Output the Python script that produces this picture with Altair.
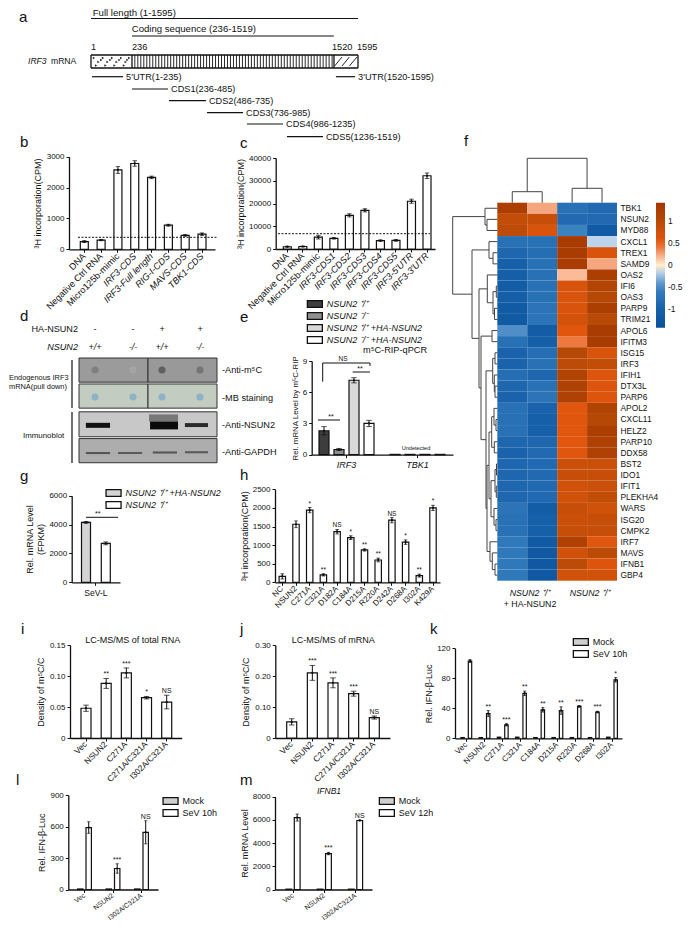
import altair as alt
import pandas as pd

W, H = 675, 914
FONT = "Liberation Sans"
def PX(p): return p - 8
def PY(p): return p - 8

# ---------- chart values ----------
b_cats = ["DNA", "Negative Ctrl RNA", "Micro125b-mimic", "IRF3-CDS", "IRF3-Full length", "RIG-I-CDS", "MAVS-CDS", "TBK1-CDS"]
b_vals = [250, 300, 2570, 2780, 2330, 780, 450, 490]
b_errs = [30, 20, 110, 90, 40, 30, 25, 40]
c_cats = ["DNA", "Negative Ctrl RNA", "Micro125b-mimic", "IRF3-CDS1", "IRF3-CDS2", "IRF3-CDS3", "IRF3-CDS4", "IRF3-CDS5", "IRF3-5'UTR", "IRF3-3'UTR"]
c_vals = [1000, 1100, 5200, 4700, 14800, 17000, 3700, 3800, 21000, 32200]
c_errs = [200, 200, 800, 300, 700, 700, 300, 400, 900, 1200]
e_cats = ["IRF3", "TBK1"]
e_names = ["NSUN2 ⁺/⁺", "NSUN2 ⁻/⁻", "NSUN2 ⁺/⁺ +HA-NSUN2", "NSUN2 ⁻/⁻ +HA-NSUN2"]
e_vals = [[2.3, 0.03], [0.5, 0.03], [7.15, 0.03], [3.0, 0.03]]
e_errs = [[0.4, 0.0], [0.1, 0.0], [0.25, 0.0], [0.3, 0.0]]
g_names = ["NSUN2 ⁺/⁺ +HA-NSUN2", "NSUN2 ⁺/⁺"]
g_vals = [[4150], [2700]]
g_errs = [[60], [100]]
h_cats = ["NC", "NSUN2", "C271A", "C321A", "D182A", "C184A", "D215A", "R220A", "D242A", "D268A", "I302A", "K429A"]
h_vals = [160, 1560, 1940, 200, 1360, 1200, 870, 600, 1670, 1080, 180, 2000]
h_errs = [70, 90, 70, 30, 60, 50, 30, 50, 70, 60, 40, 70]
h_sig = ["", "", "*", "**", "NS", "*", "**", "**", "NS", "*", "**", "*"]
i_cats = ["Vec", "NSUN2", "C271A", "C271A/C321A", "I302A/C321A"]
i_vals = [0.048, 0.088, 0.105, 0.065, 0.058]
i_errs = [0.005, 0.008, 0.008, 0.002, 0.011]
i_sig = ["", "**", "***", "*", "NS"]
j_vals = [0.052, 0.21, 0.178, 0.143, 0.066]
j_errs = [0.01, 0.024, 0.016, 0.008, 0.005]
j_sig = ["", "***", "***", "***", "NS"]
k_cats = ["Vec", "NSUN2", "C271A", "C321A", "C184A", "D215A", "R220A", "D268A", "I302A"]
k_mock = [1, 1, 1.5, 1.5, 1, 1, 1, 1, 1.5]
k_sev = [103, 33, 18, 60, 38, 37, 42.5, 35, 78]
k_err = [2, 4, 1.5, 3, 3, 5, 1, 1, 3]
k_sig = ["", "**", "***", "**", "**", "**", "***", "***", "*"]
lm_cats = ["Vec", "NSUN2", "I302A/C321A"]
l_mock = [5, 5, 5]
l_sev = [590, 200, 545]
l_err = [55, 45, 110]
lm_sig = ["", "***", "NS"]
m_mock = [30, 30, 30]
m_sev = [6200, 3100, 5950]
m_err = [300, 100, 30]

genes = ["TBK1", "NSUN2", "MYD88", "CXCL1", "TREX1", "SAMD9", "OAS2", "IFI6", "OAS3", "PARP9", "TRIM21", "APOL6",
         "IFITM3", "ISG15", "IRF3", "IFIH1", "DTX3L", "PARP6", "APOL2", "CXCL11", "HELZ2", "PARP10", "DDX58", "BST2",
         "IDO1", "IFIT1", "PLEKHA4", "WARS", "ISG20", "CMPK2", "IRF7", "MAVS", "IFNB1", "GBP4"]
heat_col1 = [1.25, 0.9, 0.95, -0.75, -0.9, -1.0, -1.05, -1.1, -1.05, -1.15, -1.15, -0.45, -0.75, -0.95, -0.95, -0.8, -0.9,
             -0.95, -0.75, -0.75, -0.75, -0.9, -0.95, -0.9, -0.9, -0.9, -0.9, -0.7, -0.75, -0.75, -0.65, -0.65, -0.65, -0.65]
heat_col2 = [0.25, 0.85, 0.65, -0.75, -0.8, -0.75, -0.75, -0.75, -0.75, -0.7, -0.7, -1.1, -1.05, -0.8, -0.75, -0.9, -0.75,
             -0.7, -0.95, -1.0, -1.0, -0.9, -0.85, -0.85, -0.85, -0.85, -0.85, -1.1, -1.0, -1.0, -1.15, -1.2, -1.2, -1.2]
heat_col3 = [-0.75, -0.85, -0.5, 1.3, 1.3, 1.3, 0.18, 0.65, 0.65, 0.65, 0.7, 0.55, 0.4, 1.05, 0.95, 1.15, 1.2, 1.2, 0.55,
             0.55, 0.55, 0.55, 0.55, 0.8, 0.85, 0.75, 0.75, 0.85, 0.8, 0.85, 1.2, 0.75, 0.95, 0.75]
heat_col4 = [-0.85, -0.85, -1.15, -0.15, 0.65, 0.25, 1.25, 1.1, 1.05, 1.25, 1.0, 1.3, 1.3, 0.65, 0.9, 0.6, 0.6, 0.6, 1.15,
             1.05, 1.25, 1.2, 1.2, 0.8, 0.85, 0.8, 0.9, 0.75, 0.85, 0.85, 0.55, 0.95, 0.6, 0.75]
heat_cols = [heat_col1, heat_col2, heat_col3, heat_col4]

row_tree = (44.6,
    (12.3, 0, (10.3, 1, 2)),
    (25.3,
        (8.3, 3, (4.3, 4, 5)),
        (18.3,
            (10, 6, (4.3, (1, 7, 8), (2.8, 9, 10))),
            (16.3,
                (5.3, 11, 12),
                (11.3,
                    (4.6, (2.3, 13, 14), (3, 15, (2.3, 16, 17))),
                    (10.3,
                        (8.3,
                            (5.6, (3.3, 18, (1.3, 19, 20)), (3, 21, 22)),
                            (6.3, (2.3, (0.8, 23, 24), (1, 25, 26)), (3.3, 27, (1.3, 28, 29)))),
                        (7.3, 30, (5, 31, (2.3, 32, 33)))))))))
col_tree = (44.4, (11, 0, 1), (14.4, 2, 3))

segments = [("5'UTR(1-235)", 7, 185, 76.7), ("3'UTR(1520-1595)", 1526, 1586, 76.7), ("CDS1(236-485)", 236, 465, 89),
            ("CDS2(486-735)", 471, 706, 100.7), ("CDS3(736-985)", 713, 942, 112.7), ("CDS4(986-1235)", 967, 1196, 124),
            ("CDS5(1236-1519)", 1221, 1450, 136.7)]

# ---------- helpers ----------
ONE = alt.InlineData(values=[{"a": 1}])
notes = []

def label(x, y, t, size=9, italic=False, align="left", baseline="middle", angle=None):
    kw = {} if angle is None else {"angle": angle}
    notes.append(alt.Chart(ONE).mark_text(font=FONT, fontSize=size, color="#111", align=align, baseline=baseline,
                                          fontStyle="italic" if italic else "normal", **kw)
                 .encode(x=alt.value(PX(x)), y=alt.value(PY(y)), text=alt.value(t)))

def line(x1, y1, x2, y2, width=1.0, dash=None, color="#111"):
    kw = {} if dash is None else {"strokeDash": dash}
    notes.append(alt.Chart(ONE).mark_rule(color=color, strokeWidth=width, **kw)
                 .encode(x=alt.value(PX(x1)), x2=alt.value(PX(x2)), y=alt.value(PY(y1)), y2=alt.value(PY(y2))))

def band_scale(cats, a, b, c0, c1, bw):
    n = len(cats)
    step = (c1 - c0) / max(n - 1, 1) if n > 1 else (b - a) * 0.6
    pi = 1 - bw / step
    po = ((b - a) / step - n + pi) / 2
    left = c0 - bw / 2 - a
    al = max(0, min(1, left / (2 * po * step)))
    return alt.Scale(type="band", domain=cats, range=[PX(a), PX(b)], paddingInner=pi, paddingOuter=po, align=al)

def bar_panel(cats, names, vals, errs, offs, fills, ax_x, x_end, y0, ytop, ymax, ticks, c0, c1, ytitle, bw,
              sig=None, sig_series=-1, title_pad=3, label_angle=-45, label_expr=None, x_italic=None, legend=None,
              ysize=9, xsize=8, sig_size=7):
    xscale = band_scale(cats, ax_x, x_end, c0, c1, bw)
    yscale = alt.Scale(domain=[0, ymax], range=[PY(y0), PY(ytop)], nice=False)
    xkw = {}
    if x_italic: xkw["labelFontStyle"] = x_italic
    xaxis = alt.Axis(orient="bottom", offset=PY(y0) - H, title=None, labelAngle=label_angle, grid=False,
                     labelAlign="right" if label_angle else "center", labelBaseline="middle" if label_angle else "top",
                     labelFont=FONT, labelFontSize=xsize, labelColor="#111", labelOverlap=False, labelBound=False,
                     labelPadding=2 if label_angle else 3, tickSize=3, tickColor="#111", tickWidth=1, domainColor="#111", domainWidth=1.3, **xkw)
    ykw = {"format": "d"} if label_expr is None else {"labelExpr": label_expr}
    yaxis = alt.Axis(orient="left", offset=-PX(ax_x), title=ytitle, values=ticks, grid=False, labelFont=FONT, labelFontSize=8,
                     labelColor="#111", labelOverlap=False, titleFont=FONT, titleFontSize=ysize, titleFontWeight="normal",
                     titleColor="#111", titlePadding=title_pad, tickSize=3, tickColor="#111", tickWidth=1, domainColor="#111",
                     domainWidth=1.3, labelPadding=2, **ykw)
    X = alt.X("cat:N", scale=xscale, axis=xaxis)
    def Y(f): return alt.Y(f + ":Q", scale=yscale, axis=yaxis)
    fill_scale = alt.Scale(domain=names, range=fills)
    layers = []
    for s, name in enumerate(names):
        rows = []
        for i, c in enumerate(cats):
            v, e = vals[s][i], errs[s][i]
            rows.append({"cat": c, "series": name, "v": v, "lo": v - e, "hi": v + e,
                         "sig": sig[i] if (sig is not None and s == (sig_series % len(names))) else ""})
        df = pd.DataFrame(rows)
        base = alt.Chart(df)
        fill = alt.Fill("series:N", scale=fill_scale, legend=legend if s == 0 else None)
        layers.append(base.mark_bar(width=bw, xOffset=offs[s], stroke="#111", strokeWidth=1.2).encode(x=X, y=Y("v"), fill=fill))
        err_df = df[df.hi > df.lo]
        if len(err_df):
            eb = alt.Chart(err_df)
            layers.append(eb.mark_rule(xOffset=offs[s], color="#111", strokeWidth=1).encode(x=X, y=Y("lo"), y2="hi:Q"))
            for f in ("lo", "hi"):
                layers.append(eb.mark_tick(xOffset=offs[s], color="#111", thickness=1, size=max(bw * 0.55, 3)).encode(x=X, y=Y(f)))
            layers.append(eb.mark_point(xOffset=offs[s], filled=True, color="#111", size=5, opacity=1).encode(x=X, y=Y("v")))
        if sig is not None and s == (sig_series % len(names)):
            layers.append(base.mark_text(xOffset=offs[s], font=FONT, fontSize=sig_size, baseline="bottom", dy=-1, color="#111").encode(
                x=X, y=Y("hi"), text="sig:N"))
    return alt.layer(*layers)

SWATCH = "M-1.875,-0.85H1.875V0.85H-1.875Z"
def legend_at(x, y, italic=False):
    # x, y: left edge of the swatches and centre of the first row
    return alt.Legend(orient="none", legendX=PX(x + 2.85), legendY=PY(y - 5), title=None, symbolType=SWATCH, symbolSize=64,
                      symbolStrokeColor="#111", symbolStrokeWidth=1.3, labelFont=FONT, labelFontSize=9, labelColor="#111",
                      labelFontStyle="italic" if italic else "normal", labelOffset=7, rowPadding=0, padding=0, labelLimit=200)

def gene_expr():
    return ("(indexof(datum.label,'IRF3')>=0 || indexof(datum.label,'RIG')>=0 || indexof(datum.label,'MAVS')>=0 "
            "|| indexof(datum.label,'TBK1')>=0) ? 'italic' : 'normal'")

panels = []

# ---------- a: mRNA map ----------
ax = alt.Scale(domain=[1, 236, 1520, 1595], range=[PX(91), PX(132), PX(334), PX(358)])
ay = alt.Scale(domain=[0, 140], range=[PY(0), PY(140)])
Xa = alt.X("x:Q", scale=ax, axis=None)
Ya = alt.Y("y:Q", scale=ay, axis=None)
box = pd.DataFrame({"x": [1, 1, 1, 236, 1520, 1595], "x2": [1595, 1595, 1, 236, 1520, 1595],
                    "y": [55, 68, 55, 55, 55, 55], "y2": [55, 68, 68, 68, 68, 68]})
stripe_nt = list(range(254, 1520, 19))
stripes = pd.DataFrame({"x": stripe_nt, "y": 55, "y2": 68})
dots_x = [18, 70, 122, 174, 220, 44, 96, 148, 200, 30, 84, 136, 190, 60, 112, 164, 210]
dots_y = [58, 58, 58, 58, 58, 62, 62, 62, 62, 65.5, 65.5, 65.5, 65.5, 60, 60, 60, 60]
dots = pd.DataFrame({"x": dots_x, "y": dots_y})
hatch = pd.DataFrame({"x": [1522, 1545, 1568], "x2": [1545, 1568, 1592], "y": [66, 66, 66], "y2": [57, 57, 57]})
tops = pd.DataFrame({"x": [1, 236], "x2": [1595, 1519], "y": [18.5, 36]})
seg = pd.DataFrame(segments, columns=["t", "x", "x2", "y"])
panels.append(alt.layer(
    alt.Chart(stripes).mark_rule(color="#111", strokeWidth=0.9).encode(x=Xa, y=Ya, y2="y2:Q"),
    alt.Chart(dots).mark_point(shape="triangle-right", size=7, color="#222", filled=True, opacity=1).encode(x=Xa, y=Ya),
    alt.Chart(hatch).mark_rule(color="#111", strokeWidth=0.9).encode(x=Xa, x2="x2:Q", y=Ya, y2="y2:Q"),
    alt.Chart(box).mark_rule(color="#111", strokeWidth=1.3).encode(x=Xa, x2="x2:Q", y=Ya, y2="y2:Q"),
    alt.Chart(tops).mark_rule(color="#111", strokeWidth=1.2).encode(x=Xa, x2="x2:Q", y=Ya),
    alt.Chart(seg).mark_rule(color="#111", strokeWidth=1.2).encode(x=Xa, x2="x2:Q", y=Ya),
    alt.Chart(seg).mark_text(font=FONT, fontSize=9.2, align="left", baseline="middle", dx=3, color="#111").encode(
        x=alt.X("x2:Q", scale=ax, axis=None), y=Ya, text="t:N"),
))
label(92.7, 13, "Full length (1-1595)", 9.6)
label(131.7, 29, "Coding sequence (236-1519)", 9.6)
label(91, 47, "1", 9.2)
label(132, 47, "236", 9.2)
label(332, 47, "1520", 9.2)
label(357, 47, "1595", 9.2)
label(28, 61, "IRF3", 8.6, italic=True)
label(51, 61, "mRNA", 8.6)

# ---------- b, c ----------
panels.append(bar_panel(b_cats, ["b"], [b_vals], [b_errs], [0], ["white"], 69, 215, 249.3, 156.7, 3000, [0, 1000, 2000, 3000],
                        84.3, 202, "³H incorporation(CPM)", 8, title_pad=4, x_italic=alt.expr(gene_expr()), legend=None, xsize=9.2))
line(78, 237.3, 217, 237.3, 1, [2, 1.5])
panels.append(bar_panel(c_cats, ["c"], [c_vals], [c_errs], [0], ["white"], 275.7, 435, 249, 158, 40000, [0, 10000, 20000, 30000, 40000],
                        287.3, 427, "³H incorporation(CPM)", 8, title_pad=3, x_italic=alt.expr(gene_expr()), legend=None, xsize=9.2))
line(278, 233.7, 430, 233.7, 1, [2, 1.5])

# ---------- d: blot ----------
lx = alt.Scale(domain=[0, 4], range=[PX(79), PX(217)])
ly = alt.Scale(domain=[0, 4], range=[PY(358), PY(463)])
Xd = alt.X("x:Q", scale=lx, axis=None)
Yd = alt.Y("y:Q", scale=ly, axis=None)
FillD = alt.Fill("c:N", scale=None)
blot_bg = pd.DataFrame({"x": [0, 2, 0, 2, 0, 0], "x2": [2, 4, 2, 4, 4, 4], "y": [0, 0, 0.99, 0.99, 2.05, 3.07],
                        "y2": [0.92, 0.92, 1.91, 1.91, 3.0, 3.99],
                        "c": ["#9b9b9b", "#999999", "#c2ccc0", "#c2ccc0", "#c8c8c8", "#adadad"]})
spot_x = [0.464, 1.565, 2.406, 3.507, 0.464, 1.565, 2.406, 3.507]
spot_y = [0.457, 0.457, 0.457, 0.457, 1.486, 1.486, 1.486, 1.486]
spot_c = ["#7f7f7f", "#a4a4a4", "#5f5f5f", "#747474", "#8db2c8", "#8db2c8", "#8db2c8", "#8db2c8"]
spots = pd.DataFrame({"x": spot_x, "y": spot_y, "c": spot_c})
band_x = [0.2, 2.03, 2.06, 3.07, 0.2, 1.13, 2.14, 3.07]
band_x2 = [0.9, 2.87, 2.87, 3.74, 0.9, 1.83, 2.84, 3.74]
band_y = [2.47, 2.15, 2.42, 2.48, 3.58, 3.58, 3.56, 3.55]
band_y2 = [2.66, 2.42, 2.72, 2.63, 3.66, 3.66, 3.64, 3.63]
band_c = ["#111111", "#777777", "#0a0a0a", "#2a2a2a", "#555555", "#5a5a5a", "#555555", "#5a5a5a"]
bands = pd.DataFrame({"x": band_x, "x2": band_x2, "y": band_y, "y2": band_y2, "c": band_c})
panels.append(alt.layer(
    alt.Chart(blot_bg).mark_rect(stroke="#333", strokeWidth=1).encode(x=Xd, x2="x2:Q", y=Yd, y2="y2:Q", fill=FillD),
    alt.Chart(spots).mark_point(filled=True, size=50, opacity=1).encode(x=Xd, y=Yd, fill=FillD),
    alt.Chart(bands).mark_rect().encode(x=Xd, x2="x2:Q", y=Yd, y2="y2:Q", fill=FillD),
))
line(72, 360, 72, 408, 1.2)
line(72, 412, 72, 463, 1.2)
label(78, 329, "HA-NSUN2", 9.1, align="right")
label(78, 347, "NSUN2", 9.1, italic=True, align="right")
for x_, a_, b_ in [(95, "-", "+/+"), (133, "-", "-/-"), (162, "+", "+/+"), (200, "+", "-/-")]:
    label(x_, 329, a_, 9, align="center")
    label(x_, 347, b_, 9, align="center", italic=True)
label(222, 370, "-Anti-m⁵C", 9.2)
label(222, 398, "-MB staining", 9.2)
label(222, 425, "-Anti-NSUN2", 9.2)
label(222, 452, "-Anti-GAPDH", 9.2)
label(9, 378, "Endogenous IRF3", 7.4)
label(9, 387, "mRNA(pull down)", 7.4)
label(23, 436, "Immunoblot", 7.9)

# ---------- e ----------
panels.append(bar_panel(e_cats, e_names, e_vals, e_errs, [-22.5, -7.5, 7.5, 22.5], ["#3d3d3d", "#8f8f8f", "#d9d9d9", "white"],
                        311.7, 453, 454.7, 361, 9, [0, 3, 6, 9], 346.5, 417.5, "Rel. mRNA Level by m⁵C-RIP", 10,
                        title_pad=3, ysize=7.9, label_angle=0, x_italic="italic", legend=legend_at(307, 304, True), xsize=9))
label(395, 350, "m⁵C-RIP-qPCR", 9.2, align="center")
line(318, 420, 340, 420)
label(331, 417, "**", 7, align="center")
line(322.7, 381.7, 322.7, 363)
line(322.7, 363, 370, 363)
line(370, 363, 370, 366)
label(343, 359, "NS", 6.5, align="center")
line(352.7, 372, 370, 372)
label(360, 369, "**", 7, align="center")
label(416, 448, "Undetected", 5.6, align="center")

# ---------- g ----------
panels.append(bar_panel(["SeV-L"], g_names, g_vals, g_errs, [-9.9, 9.9], ["#d4d4d4", "white"], 71.7, 120, 582.3, 495.7, 6000,
                        [0, 2000, 4000, 6000], 95.9, 95.9, ["Rel. mRNA Level", "(FPKM)"], 9, title_pad=3, label_angle=0,
                        legend=legend_at(105.7, 493, True), xsize=8.6, ysize=9))
line(86, 517.3, 118, 517.3)
label(97.7, 514, "**", 7, align="center")

# ---------- h ----------
panels.append(bar_panel(h_cats, ["h"], [h_vals], [h_errs], [0], ["white"], 275, 440, 582.3, 489.3, 2500, [0, 500, 1000, 1500, 2000, 2500],
                        282.3, 433, "³H incorporation(CPM)", 6.4, sig=h_sig, title_pad=3, legend=None, sig_size=6.5))

# ---------- i, j ----------
expr2 = "datum.value==0 ? '0' : format(datum.value,'.2f')"
panels.append(bar_panel(i_cats, ["i"], [i_vals], [i_errs], [0], ["white"], 70, 181.7, 738, 645, 0.15, [0, 0.05, 0.10, 0.15], 86, 166.7,
                        "Density of m⁵C/C", 10, sig=i_sig, title_pad=4, label_expr=expr2, legend=None, xsize=8.3))
label(132.7, 640, "LC-MS/MS of total RNA", 9, align="center")
panels.append(bar_panel(i_cats, ["j"], [j_vals], [j_errs], [0], ["white"], 275.3, 390, 738, 645, 0.30, [0, 0.10, 0.20, 0.30], 291.7, 374.3,
                        "Density of m⁵C/C", 10, sig=j_sig, title_pad=4, label_expr=expr2, legend=None, xsize=8.3))
label(333.3, 640, "LC-MS/MS of mRNA", 9, align="center")

# ---------- k ----------
zero_k = [0] * len(k_cats)
panels.append(bar_panel(k_cats, ["Mock", "SeV 10h"], [k_mock, k_sev], [zero_k, k_err], [-3.7, 3.7], ["#cfcfcf", "white"], 455, 622, 738.3, 648.3, 120,
                        [0, 40, 80, 120], 466.3, 612, "Rel. IFN-β-Luc", 3.4, sig=k_sig, title_pad=3, legend=legend_at(573, 642)))

# ---------- l, m ----------
zero_l = [0, 0, 0]
panels.append(bar_panel(lm_cats, ["Mock", "SeV 10h"], [l_mock, l_sev], [zero_l, l_err], [-4.2, 4.2], ["#cfcfcf", "white"], 68.3, 158, 889.5, 795, 900,
                        [0, 300, 600, 900], 84.5, 141.5, "Rel. IFN-β-Luc", 5.4, sig=lm_sig, title_pad=3, legend=legend_at(162.7, 801), xsize=6.8, label_angle=-36))
panels.append(bar_panel(lm_cats, ["Mock", "SeV 12h"], [m_mock, m_sev], [zero_l, m_err], [-4.2, 4.2], ["#cfcfcf", "white"], 275, 372, 889.5, 796.7, 8000,
                        [0, 2000, 4000, 6000, 8000], 293, 355.5, "Rel. mRNA Level", 5.8, sig=lm_sig, title_pad=3, legend=legend_at(379, 801), xsize=6.8, label_angle=-36))
label(329, 790.7, "IFNB1", 8.5, italic=True, align="center")

# ---------- f: heatmap ----------
col_ids = ["A1", "A2", "B1", "B2"]
heat = pd.DataFrame([{"gene": g, "col": col_ids[c], "v": heat_cols[c][r]} for r, g in enumerate(genes) for c in range(4)])
hx = alt.Scale(type="band", domain=col_ids, range=[PX(497.3), PX(617)], paddingInner=0, paddingOuter=0)
hy = alt.Scale(type="band", domain=genes, range=[PY(202.7), PY(580.7)], paddingInner=0, paddingOuter=0)
panels.append(alt.Chart(heat).mark_rect().encode(
    x=alt.X("col:N", scale=hx, axis=None),
    y=alt.Y("gene:N", scale=hy, axis=alt.Axis(orient="right", offset=PX(617) - W, title=None, domain=False, ticks=False, grid=False,
                                              labelFont=FONT, labelFontSize=8.4, labelColor="#111", labelOverlap=False, labelPadding=3, labelBound=False)),
    color=alt.Color("v:Q", scale=alt.Scale(domain=[-1.42, -1, -0.5, -0.12, 0, 0.2, 0.5, 1, 1.42],
                                           range=["#08509a", "#1660aa", "#3a82c0", "#c8dcf0", "#ffffff", "#f5b593", "#e6570f", "#b84a06", "#a33600"]),
                    legend=alt.Legend(orient="none", legendX=PX(656), legendY=PY(202.7), title=None, gradientLength=125, gradientThickness=9,
                                      values=[1, 0.5, 0, -0.5, -1], labelFont=FONT, labelFontSize=8.4, labelColor="#111", padding=0,
                                      labelOffset=3, gradientStrokeWidth=0, labelOverlap=False, labelExpr="'' + datum.value")),
))

def tree_segments(node):
    """node = (depth, child, child); a leaf is a row index. Returns position and segment rows."""
    if isinstance(node, int):
        return node + 0.5, 0, []
    d, l, r = node
    p1, d1, s1 = tree_segments(l)
    p2, d2, s2 = tree_segments(r)
    rows = s1 + s2 + [dict(d=d, d2=d, p=p1, p2=p2), dict(d=d1, d2=d, p=p1, p2=p1), dict(d=d2, d2=d, p=p2, p2=p2)]
    return (p1 + p2) / 2, d, rows

_, _, row_seg = tree_segments(row_tree)
_, _, col_seg = tree_segments(col_tree)
dx_row = alt.Scale(domain=[0, 50], range=[PX(497.3), PX(447.3)])
py_row = alt.Scale(domain=[0, 34], range=[PY(202.7), PY(580.7)])
panels.append(alt.Chart(pd.DataFrame(row_seg)).mark_rule(color="#444", strokeWidth=1).encode(
    x=alt.X("d:Q", scale=dx_row, axis=None), x2="d2:Q", y=alt.Y("p:Q", scale=py_row, axis=None), y2="p2:Q"))
px_col = alt.Scale(domain=[0, 4], range=[PX(497.3), PX(617)])
dy_col = alt.Scale(domain=[0, 44.4], range=[PY(202.7), PY(158.3)])
panels.append(alt.Chart(pd.DataFrame(col_seg)).mark_rule(color="#444", strokeWidth=1).encode(
    x=alt.X("p:Q", scale=px_col, axis=None), x2="p2:Q", y=alt.Y("d:Q", scale=dy_col, axis=None), y2="d2:Q"))
label(530, 592.7, "NSUN2 ⁺/⁺", 8.8, italic=True, align="center")
label(530, 604, "+ HA-NSUN2", 8.8, align="center")
label(590, 592.7, "NSUN2 ⁺/⁺", 8.8, italic=True, align="center")

# ---------- panel letters ----------
for t, x_, y_ in [("a", 19, 17), ("b", 20, 142), ("c", 240, 143), ("d", 20, 316), ("e", 240, 317), ("f", 464, 141), ("g", 20, 476),
                  ("h", 240, 475), ("i", 21, 629), ("j", 240, 629), ("k", 430, 629), ("l", 16, 780), ("m", 240, 780)]:
    label(x_, y_, t, 15)

chart = alt.layer(*panels, *notes).resolve_scale(x="independent", y="independent", fill="independent", color="independent").properties(
    width=W, height=H, padding=0, autosize=alt.AutoSizeParams(type="none"), background="white")
chart = chart.configure_view(stroke=None)
chart.save("out.html", embed_options={"renderer": "svg", "actions": False})
